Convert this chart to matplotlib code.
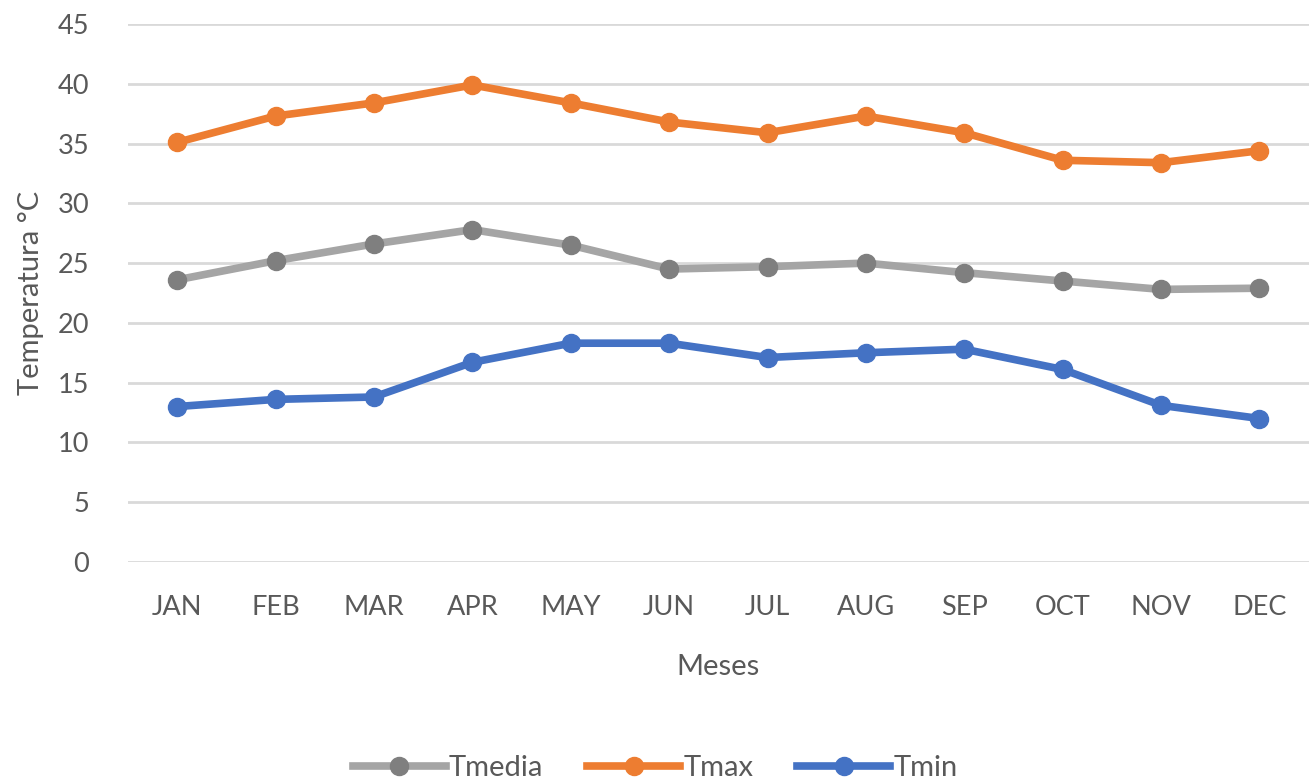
import matplotlib.pyplot as plt

# datos
meses = ['JAN', 'FEB', 'MAR', 'APR', 'MAY', 'JUN', 'JUL', 'AUG', 'SEP', 'OCT', 'NOV', 'DEC']
tmedia = [23.6, 25.2, 26.6, 27.8, 26.5, 24.5, 24.7, 25.0, 24.2, 23.5, 22.8, 22.9]
tmax = [35.1, 37.3, 38.4, 39.9, 38.4, 36.8, 35.9, 37.3, 35.9, 33.6, 33.4, 34.4]
tmin = [13.0, 13.6, 13.8, 16.7, 18.3, 18.3, 17.1, 17.5, 17.8, 16.1, 13.1, 12.0]

plt.rcParams['font.family'] = ['Lato', 'DejaVu Sans']
gris_texto = '#595959'

fig = plt.figure(figsize=(13.1, 7.84), dpi=100)
ax = fig.add_axes([0.0977, 0.2832, 0.9013, 0.6862])

x = range(len(meses))
ax.plot(x, tmedia, color='#a5a5a5', linewidth=5.5, marker='o', markersize=13,
        markerfacecolor='#7f7f7f', markeredgecolor='#7f7f7f', label='Tmedia', zorder=3)
ax.plot(x, tmax, color='#ed7d31', linewidth=5.5, marker='o', markersize=13, label='Tmax', zorder=3)
ax.plot(x, tmin, color='#4472c4', linewidth=5.5, marker='o', markersize=13, label='Tmin', zorder=3)

ax.set_xlim(-0.5, len(meses) - 0.5)
ax.set_ylim(0, 45)
ax.set_yticks(range(0, 46, 5))
ax.set_xticks(list(x))
ax.set_xticklabels(meses)
ax.grid(axis='y', color='#d9d9d9', linewidth=2)
ax.set_axisbelow(True)
for s in ax.spines.values():
    s.set_visible(False)
ax.tick_params(length=0, labelsize=19.5, colors=gris_texto)
ax.tick_params(axis='x', pad=24)
ax.tick_params(axis='y', pad=28)

ax.set_ylabel('Temperatura °C', fontsize=21, color=gris_texto, labelpad=10)
ax.set_xlabel('Meses', fontsize=21, color=gris_texto, labelpad=24)

fig.legend(loc='lower center', ncol=3, frameon=False, fontsize=21,
           bbox_to_anchor=(0.5, -0.03), handlelength=3.2, handletextpad=0.1,
           columnspacing=1.5, labelcolor=gris_texto)

fig.savefig('out.png', dpi=100)
